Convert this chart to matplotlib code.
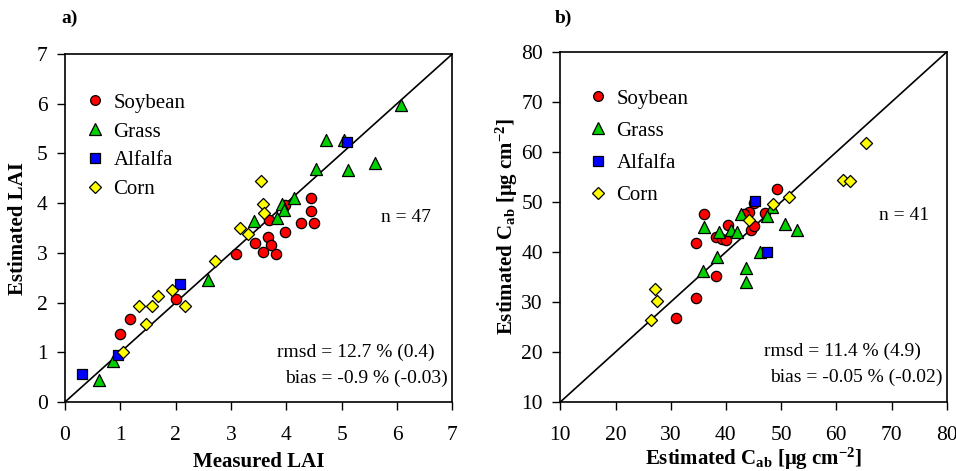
import matplotlib
matplotlib.use("Agg")
import matplotlib.pyplot as plt
from matplotlib.lines import Line2D

plt.rcParams['font.family'] = ['Liberation Serif', 'DejaVu Serif']
plt.rcParams['mathtext.fontset'] = 'custom'
plt.rcParams['mathtext.rm'] = 'Liberation Serif'
plt.rcParams['mathtext.bf'] = 'Liberation Serif:bold'
plt.rcParams['mathtext.it'] = 'Liberation Serif:italic'

# ---------------- Panel a) LAI ----------------
lai_soy_x = [4.45, 4.45, 4.27, 4.50, 3.97, 3.69, 3.97, 3.44, 3.66, 3.72, 3.57, 3.82, 3.09, 2.01, 1.17, 0.99]
lai_soy_y = [4.11, 3.84, 3.61, 3.61, 3.97, 3.67, 3.42, 3.20, 3.31, 3.15, 3.01, 2.97, 2.97, 2.07, 1.66, 1.36]
lai_grass_x = [6.07, 4.71, 5.05, 4.54, 5.12, 5.61, 4.14, 3.92, 3.96, 3.83, 3.41, 2.59, 0.86, 0.61]
lai_grass_y = [5.97, 5.28, 5.28, 4.68, 4.66, 4.81, 4.11, 3.99, 3.87, 3.71, 3.64, 2.45, 0.83, 0.45]
lai_alf_x = [5.09, 2.07, 0.95, 0.31]
lai_alf_y = [5.22, 2.37, 0.95, 0.56]
lai_corn_x = [3.54, 3.57, 3.60, 3.16, 3.31, 2.71, 1.93, 2.17, 1.68, 1.57, 1.33, 1.47, 1.05]
lai_corn_y = [4.45, 3.99, 3.81, 3.49, 3.37, 2.84, 2.26, 1.94, 2.13, 1.93, 1.93, 1.56, 1.00]

# ---------------- Panel b) Cab ----------------
cab_soy_x = [49.3, 36.0, 44.1, 43.3, 47.1, 44.5, 45.1, 40.3, 38.2, 39.3, 40.0, 34.5, 38.2, 34.5, 30.9, 45.0]
cab_soy_y = [52.6, 47.6, 48.0, 47.6, 47.8, 44.4, 45.2, 45.5, 43.0, 42.7, 42.4, 41.8, 35.2, 30.9, 26.8, 49.8]
cab_grass_x = [48.4, 36.0, 42.7, 47.5, 50.7, 52.8, 38.8, 41.0, 42.1, 46.2, 38.3, 35.9, 43.7, 43.7]
cab_grass_y = [49.0, 45.0, 47.6, 47.2, 45.7, 44.5, 44.0, 44.5, 44.0, 40.0, 39.0, 36.2, 36.9, 34.0]
cab_alf_x = [45.3, 47.4]
cab_alf_y = [50.2, 40.0]
cab_corn_x = [65.4, 61.3, 62.4, 51.4, 48.6, 44.2, 27.2, 27.5, 26.4]
cab_corn_y = [61.8, 54.4, 54.2, 51.0, 49.7, 46.4, 32.7, 30.3, 26.4]

labels = ["Soybean", "Grass", "Alfalfa", "Corn"]
lai_ticks = [0, 1, 2, 3, 4, 5, 6, 7]
cab_ticks = [10, 20, 30, 40, 50, 60, 70, 80]

colors = ['#FF0000', '#00D000', '#0000FF', '#FFFF00']
markers = ['o', '^', 's', 'D']
sizes = [55, 75, 50, 38]

fig = plt.figure(figsize=(9.56, 4.71), dpi=100)
ax1 = fig.add_axes([65/956, 1-402/471, 387.3/956, 348/471])
ax2 = fig.add_axes([560.3/956, 1-402/471, 386.4/956, 350/471])

def draw(ax, series, lim, ticks, leg_anchor, spacing):
    ax.plot(lim, lim, color='black', lw=1.2, zorder=1)
    for (xs, ys), c, m, s, lab in zip(series, colors, markers, sizes, labels):
        ax.scatter(xs, ys, s=s, c=c, marker=m, edgecolors='black', linewidths=0.9, zorder=3, label=lab)
    ax.set_xlim(lim)
    ax.set_ylim(lim)
    ax.set_xticks(ticks)
    ax.set_yticks(ticks)
    ax.tick_params(direction='out', length=5.5, width=1, labelsize=15.5, colors='black')
    ax.tick_params(axis='x', pad=12)
    ax.tick_params(axis='y', pad=7)
    for sp in ax.spines.values():
        sp.set_linewidth(1.2)
    handles = [Line2D([], [], ls='none', marker=m, markerfacecolor=c, markeredgecolor='black',
                      markeredgewidth=0.9, markersize=ms) for m, c, ms in zip(markers, colors, [7, 8, 6.5, 6])]
    ax.legend(handles, labels, loc='upper left', bbox_to_anchor=leg_anchor, frameon=False,
              fontsize=15, handlelength=0.8, handletextpad=0.5, labelspacing=spacing,
              borderaxespad=0, borderpad=0)

draw(ax1, [(lai_soy_x, lai_soy_y), (lai_grass_x, lai_grass_y), (lai_alf_x, lai_alf_y), (lai_corn_x, lai_corn_y)],
     [0, 7], lai_ticks, (0.055, 0.888), 0.45)
draw(ax2, [(cab_soy_x, cab_soy_y), (cab_grass_x, cab_grass_y), (cab_alf_x, cab_alf_y), (cab_corn_x, cab_corn_y)],
     [10, 80], cab_ticks, (0.075, 0.894), 0.6)

ax1.set_xlabel("Measured LAI", fontsize=15, fontweight='bold', labelpad=5)
ax1.set_ylabel("Estimated LAI", fontsize=15, fontweight='bold', labelpad=6)
ax2.set_xlabel(r"Estimated C$_{\mathbf{ab}}$ [μg cm$^{\mathbf{-2}}$]", fontsize=15, fontweight='bold', labelpad=0)
ax2.set_ylabel(r"Estimated C$_{\mathbf{ab}}$ [μg cm$^{\mathbf{-2}}$]", fontsize=15, fontweight='bold', labelpad=1)

def pxx(x):
    return x / 956
def pxy(y):
    return 1 - y / 471

fig.text(pxx(430.7), pxy(217), "n = 47", fontsize=14, ha='right', va='center')
fig.text(pxx(435), pxy(352), "rmsd = 12.7 % (0.4)", fontsize=14, ha='right', va='center')
fig.text(pxx(448), pxy(378), "bias = -0.9 % (-0.03)", fontsize=14, ha='right', va='center')
fig.text(pxx(929), pxy(215), "n = 41", fontsize=14, ha='right', va='center')
fig.text(pxx(920.7), pxy(351), "rmsd = 11.4 % (4.9)", fontsize=14, ha='right', va='center')
fig.text(pxx(943), pxy(377), "bias = -0.05 % (-0.02)", fontsize=14, ha='right', va='center')

fig.text(pxx(70), pxy(18), "a)", fontsize=14, fontweight='bold', ha='center', va='center')
fig.text(pxx(563), pxy(18), "b)", fontsize=14, fontweight='bold', ha='center', va='center')

fig.savefig("out.png", dpi=100)
